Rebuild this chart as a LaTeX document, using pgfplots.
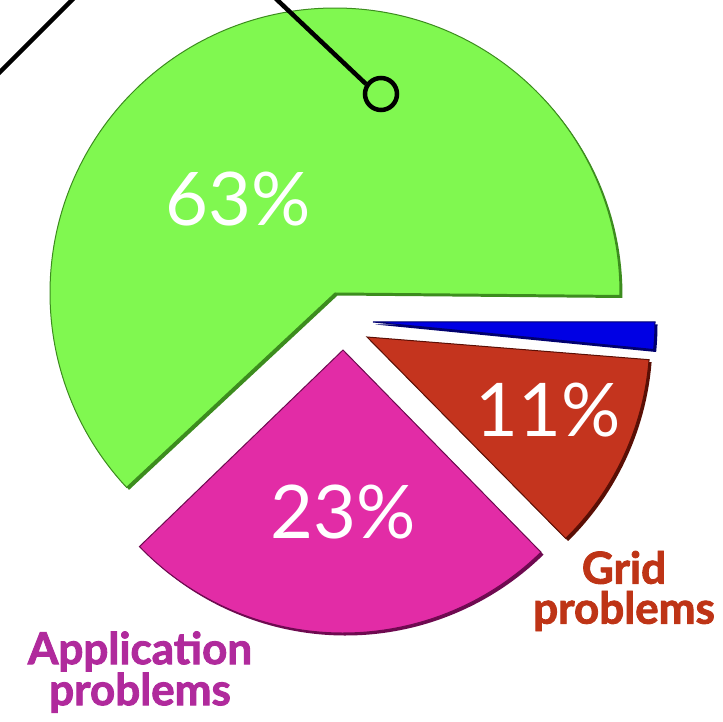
\documentclass[border=0pt]{standalone}
\usepackage{fontspec}
\setmainfont{Lato}
\newfontfamily\labfont[FakeBold=2]{Lato}
\usepackage{pgfplots}
\usepackage{pgfplotstable}
\pgfplotsset{compat=1.18}
\definecolor{pgreen}{RGB}{128,248,80}
\definecolor{pgreenD}{RGB}{60,140,30}
\definecolor{pmag}{RGB}{226,44,166}
\definecolor{pmagD}{RGB}{110,10,80}
\definecolor{pred}{RGB}{196,52,30}
\definecolor{predD}{RGB}{90,15,5}
\definecolor{pblue}{RGB}{0,0,228}
\definecolor{pblueD}{RGB}{0,0,110}
\definecolor{gridlab}{RGB}{190,52,22}
\definecolor{applab}{RGB}{176,42,156}

% slice: label value, exploded centre (x,y), start and end angle (deg), radius, colours
\pgfplotstableread{
name pct cx cy a0 a1 r col shade
Other 63 335 428 -0.5 223 285 pgreen pgreenD
App 23 343 371 224 314.4 283 pmag pmagD
Grid 11 367 384 314.6 355.4 283 pred predD
Misc 3 373 399 354.4 360 282 pblue pblueD
}\slices

\begin{document}
\begin{tikzpicture}
\begin{axis}[x=1pt, y=1pt, xmin=0, xmax=723, ymin=0, ymax=721,
  axis lines=none, clip=true]
\pgfplotsinvokeforeach{0,...,3}{
  \pgfplotstablegetelem{#1}{cx}\of\slices \let\cx\pgfplotsretval
  \pgfplotstablegetelem{#1}{cy}\of\slices \let\cy\pgfplotsretval
  \pgfplotstablegetelem{#1}{a0}\of\slices \let\aa\pgfplotsretval
  \pgfplotstablegetelem{#1}{a1}\of\slices \let\ab\pgfplotsretval
  \pgfplotstablegetelem{#1}{r}\of\slices \let\rr\pgfplotsretval
  \pgfplotstablegetelem{#1}{col}\of\slices \let\col\pgfplotsretval
  \pgfplotstablegetelem{#1}{shade}\of\slices \let\shd\pgfplotsretval
  \pgfmathsetmacro\sx{\cx+\rr*cos(\aa)}
  \pgfmathsetmacro\sy{\cy+\rr*sin(\aa)}
  \pgfmathsetmacro\tx{\cx+2.5}
  \pgfmathsetmacro\ty{\cy-2.5}
  \pgfmathsetmacro\ux{\sx+2.5}
  \pgfmathsetmacro\uy{\sy-2.5}
  \edef\temp{%
    \noexpand\fill[\shd] (axis cs:\tx,\ty) -- (axis cs:\ux,\uy)
      arc[start angle=\aa, end angle=\ab, radius=\rr pt] -- cycle;
    \noexpand\fill[\col, draw=\shd, line width=1pt] (axis cs:\cx,\cy) -- (axis cs:\sx,\sy)
      arc[start angle=\aa, end angle=\ab, radius=\rr pt] -- cycle;
  }\temp
}
% call-out lines
\addplot[black, line width=4.5pt] coordinates {(-5,644) (77,726)};
\addplot[black, line width=4.5pt] coordinates {(272,726) (366,637)};
\addplot[only marks, mark=o, mark size=16pt, mark options={line width=4.5pt, black}]
  coordinates {(381,627)};
% labels
\node[white, font=\fontsize{74}{74}\selectfont] at (axis cs:238,522) {63\%};
\node[white, font=\fontsize{74}{74}\selectfont] at (axis cs:343,209) {23\%};
\node[white, font=\fontsize{74}{74}\selectfont] at (axis cs:548,311) {11\%};
\node[gridlab, align=center, font=\fontsize{44}{40}\labfont\bfseries] at (axis cs:624,130) {Grid\\problems};
\node[applab, align=center, font=\fontsize{44}{40}\labfont\bfseries] at (axis cs:140,49) {Application\\problems};
\end{axis}
\pgfresetboundingbox
\useasboundingbox (0,0) rectangle (723pt,721pt);
\end{tikzpicture}
\end{document}
